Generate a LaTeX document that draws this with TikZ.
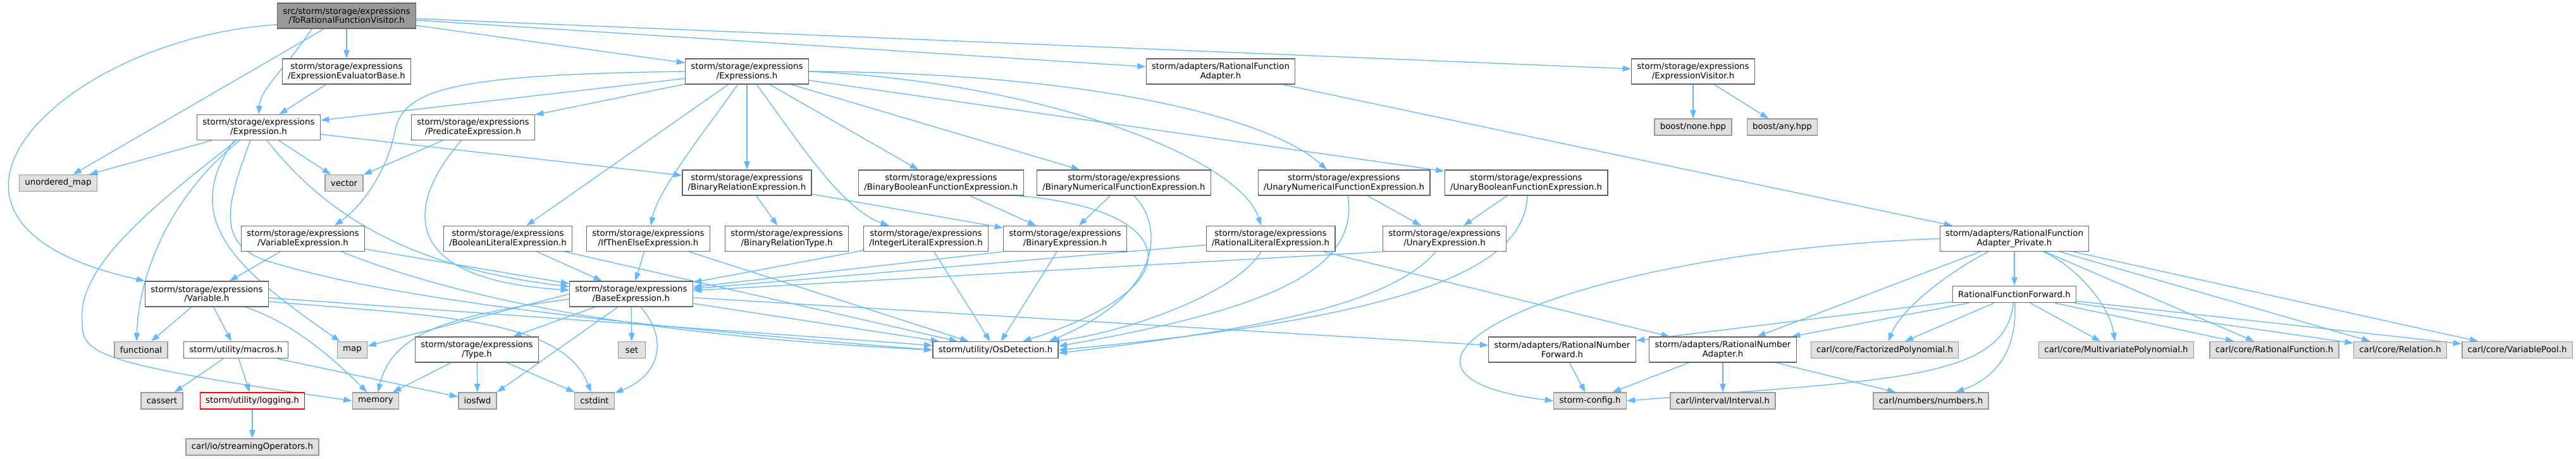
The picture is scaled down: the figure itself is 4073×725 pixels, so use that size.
\documentclass[tikz,border=0pt]{standalone}
\usepackage{fontspec}
\setmainfont{DejaVu Sans}
\usetikzlibrary{arrows.meta,calc,backgrounds}

\definecolor{incblue}{HTML}{63B8FF}
\definecolor{hdrline}{HTML}{666666}
\definecolor{sysline}{HTML}{999999}
\definecolor{sysfill}{HTML}{E0E0E0}
\definecolor{cutfill}{HTML}{FFF0F0}

\begin{document}
\begin{tikzpicture}[
  x=0.75pt, y=-0.75pt,
  font=\fontsize{10}{11}\selectfont,
  hdr/.style={draw=hdrline, fill=white, line width=1pt, align=center,
    inner xsep=6.6pt, inner ysep=0pt, minimum height=30pt, minimum width=32pt},
  hdrone/.style={hdr, minimum height=19.5pt},
  sys/.style={hdrone, draw=sysline, fill=sysfill},
  curfile/.style={hdr, fill=sysline},
  trunc/.style={hdrone, draw=red, fill=cutfill},
  dep/.style={-{Triangle[length=10pt,width=7pt]}, color=incblue, line width=1pt}
]
  \useasboundingbox (0,0) rectangle (4073,725);

  \node[curfile] (root) at (548,25) {src/storm/storage/expressions\\/ToRationalFunctionVisitor.h};
  \node[hdr] (evalbase) at (548,113) {storm/storage/expressions\\/ExpressionEvaluatorBase.h};
  \node[hdr] (exprs) at (1181,113) {storm/storage/expressions\\/Expressions.h};
  \node[hdr] (rfadapter) at (1930,113) {storm/adapters/RationalFunction\\Adapter.h};
  \node[hdr] (visitor) at (2677,113) {storm/storage/expressions\\/ExpressionVisitor.h};

  \node[hdr] (expr) at (409,201.5) {storm/storage/expressions\\/Expression.h};
  \node[hdr] (pred) at (748,201.5) {storm/storage/expressions\\/PredicateExpression.h};
  \node[sys] (bnone) at (2677,201) {boost/none.hpp};
  \node[sys] (bany) at (2818,201) {boost/any.hpp};

  \node[sys] (umap) at (92,289.5) {unordered\_map};
  \node[sys] (vec) at (544,289.5) {vector};
  \node[hdr] (brel) at (1181,289) {storm/storage/expressions\\/BinaryRelationExpression.h};
  \node[hdr] (bbool) at (1488,289) {storm/storage/expressions\\/BinaryBooleanFunctionExpression.h};
  \node[hdr] (bnum) at (1777,289) {storm/storage/expressions\\/BinaryNumericalFunctionExpression.h};
  \node[hdr] (unum) at (2125,289) {storm/storage/expressions\\/UnaryNumericalFunctionExpression.h};
  \node[hdr] (ubool) at (2413,289) {storm/storage/expressions\\/UnaryBooleanFunctionExpression.h};

  \node[hdr] (varexpr) at (479,377.5) {storm/storage/expressions\\/VariableExpression.h};
  \node[hdr] (boollit) at (803,377.5) {storm/storage/expressions\\/BooleanLiteralExpression.h};
  \node[hdr] (ite) at (1025,377.5) {storm/storage/expressions\\/IfThenElseExpression.h};
  \node[hdr] (brtype) at (1244,377.5) {storm/storage/expressions\\/BinaryRelationType.h};
  \node[hdr] (intlit) at (1464,377.5) {storm/storage/expressions\\/IntegerLiteralExpression.h};
  \node[hdr] (binexpr) at (1684,377.5) {storm/storage/expressions\\/BinaryExpression.h};
  \node[hdr] (ratlit) at (2009,377.5) {storm/storage/expressions\\/RationalLiteralExpression.h};
  \node[hdr] (unexpr) at (2284,377.5) {storm/storage/expressions\\/UnaryExpression.h};
  \node[hdr] (rfpriv) at (3185,377.5) {storm/adapters/RationalFunction\\Adapter\_Private.h};

  \node[hdr] (var) at (327,465) {storm/storage/expressions\\/Variable.h};
  \node[hdr] (base) at (998,465) {storm/storage/expressions\\/BaseExpression.h};
  \node[hdrone] (rffwd) at (3185,465.5) {RationalFunctionForward.h};

  \node[sys] (func) at (223,553.5) {functional};
  \node[hdrone] (macros) at (373,553.5) {storm/utility/macros.h};
  \node[sys] (stlmap) at (557,553.5) {map};
  \node[hdr] (type) at (754,553) {storm/storage/expressions\\/Type.h};
  \node[sys] (stlset) at (999,553.5) {set};
  \node[hdrone] (osdet) at (1574,553.5) {storm/utility/OsDetection.h};
  \node[hdr] (rnfwd) at (2470,553) {storm/adapters/RationalNumber\\Forward.h};
  \node[hdr] (rnadapt) at (2724,553) {storm/adapters/RationalNumber\\Adapter.h};
  \node[sys] (facpoly) at (2980,553.5) {carl/core/FactorizedPolynomial.h};
  \node[sys] (mvpoly) at (3346,553.5) {carl/core/MultivariatePolynomial.h};
  \node[sys] (ratfun) at (3596,553.5) {carl/core/RationalFunction.h};
  \node[sys] (relation) at (3795,553.5) {carl/core/Relation.h};
  \node[sys] (varpool) at (3980,553.5) {carl/core/VariablePool.h};

  \node[sys] (cassert) at (256,634) {cassert};
  \node[trunc] (logging) at (399,634) {storm/utility/logging.h};
  \node[sys] (memory) at (594,634) {memory};
  \node[sys] (iosfwd) at (755,634) {iosfwd};
  \node[sys] (cstdint) at (940,634) {cstdint};
  \node[sys] (stormcfg) at (2514,634) {storm-config.h};
  \node[sys] (interval) at (2724,634) {carl/interval/Interval.h};
  \node[sys] (numbers) at (3053,634) {carl/numbers/numbers.h};

  \node[sys] (streamops) at (399,707) {carl/io/streamingOperators.h};

  \begin{scope}[on background layer]
  \draw[dep] (root) -- (evalbase);
  \draw[dep] ($(root.south)+(-55,0)$) .. controls (450,110) and (412,140) .. (expr.north);
  \draw[dep] (root) -- (umap);
  \draw[dep] ($(root.west)+(0,14)$) .. controls (100,60) and (-200,350) .. (var.north west);
  \draw[dep] (root) -- (exprs);
  \draw[dep] (root) -- (rfadapter);
  \draw[dep] (root) -- (visitor);
  \draw[dep] (evalbase) -- (expr);

  \draw[dep] (exprs) -- (expr);
  \draw[dep] (exprs) -- (pred);
  \draw[dep] (exprs.west) .. controls (720,118) and (640,140) .. (625,205)
    .. controls (615,260) and (580,320) .. ($(varexpr.north)+(50,0)$);
  \draw[dep] (exprs) -- (brel);
  \draw[dep] (exprs) -- (boollit);
  \draw[dep] (exprs) .. controls (1120,200) and (1040,300) .. (ite);
  \draw[dep] (exprs) .. controls (1260,220) and (1330,330) .. (intlit);
  \draw[dep] (exprs) -- (bbool);
  \draw[dep] (exprs) -- (bnum);
  \draw[dep] (exprs.east) .. controls (1650,130) and (1960,250) .. ($(ratlit.north)+(-15,0)$);
  \draw[dep] (exprs.east) .. controls (1700,115) and (2000,180) .. ($(unum.north)+(-27,0)$);
  \draw[dep] (exprs) -- (ubool);

  \draw[dep] (expr) -- (umap);
  \draw[dep] (expr) -- (vec);
  \draw[dep] (expr) -- (brel);
  \draw[dep] ($(expr.south)+(-35,0)$) .. controls (250,320) and (120,420) .. (130,510)
    .. controls (130,560) and (150,575) .. (memory.west);
  \draw[dep] ($(expr.south)+(-30,0)$) .. controls (280,300) and (220,420) .. ($(func.north)+(-7,0)$);
  \draw[dep] ($(expr.south)+(-39,0)$) .. controls (280,350) and (380,430) .. (stlmap);
  \draw[dep] ($(expr.south)+(-13,0)$) .. controls (355,330) and (345,385) .. (420,412)
    .. controls (560,455) and (800,500) .. (osdet.west);
  \draw[dep] ($(expr.south)+(13,0)$) .. controls (500,320) and (620,420) .. (base);

  \draw[dep] (pred) -- (vec);
  \draw[dep] (pred) .. controls (660,300) and (600,440) .. (base);
  \draw[dep] (brel) -- (brtype);
  \draw[dep] (brel) -- (binexpr);
  \draw[dep] (bbool) -- (binexpr);
  \draw[dep] ($(bbool.south east)+(-10,0)$) .. controls (1860,330) and (1900,450) .. (osdet);
  \draw[dep] (bnum) -- (binexpr);
  \draw[dep] ($(bnum.south)+(16,0)$) .. controls (1835,350) and (1850,460) .. ($(osdet.north east)+(-15,0)$);
  \draw[dep] (unum) -- (unexpr);
  \draw[dep] ($(unum.south)+(6,0)$) .. controls (2150,430) and (2000,490) .. ($(osdet.east)+(0,-6)$);
  \draw[dep] (ubool) -- (unexpr);
  \draw[dep] ($(ubool.south)+(2,0)$) .. controls (2410,420) and (2250,500) .. (osdet.east);

  \draw[dep] (varexpr) -- (var);
  \draw[dep] (varexpr) -- (base);
  \draw[dep] ($(varexpr.south)+(61,0)$) .. controls (720,470) and (1000,530) .. (osdet.west);
  \draw[dep] (boollit) -- (base);
  \draw[dep] (boollit) -- (osdet);
  \draw[dep] (ite) -- (base);
  \draw[dep] (ite) -- (osdet);
  \draw[dep] (intlit) -- (base);
  \draw[dep] (intlit) -- (osdet);
  \draw[dep] (binexpr.south west) -- (base);
  \draw[dep] (binexpr) -- (osdet);
  \draw[dep] ($(ratlit.west)+(0,10)$) -- (base);
  \draw[dep] ($(ratlit.south)+(-15,0)$) .. controls (1950,470) and (1760,530) .. ($(osdet.north east)+(-12,0)$);
  \draw[dep] (ratlit) -- (rnadapt);
  \draw[dep] (unexpr.south west) -- (base);
  \draw[dep] ($(unexpr.south)+(-14,0)$) .. controls (2200,480) and (2000,520) .. ($(osdet.east)+(0,5)$);

  \draw[dep] (rfadapter) -- (rfpriv);
  \draw[dep] (visitor) -- (bnone);
  \draw[dep] (visitor) -- (bany);

  \draw[dep] (var) -- (func);
  \draw[dep] (var) -- (macros);
  \draw[dep] (var) .. controls (460,510) and (520,560) .. (memory);
  \draw[dep] ($(var.east)+(0,12)$) .. controls (700,500) and (890,505) .. (cstdint);
  \draw[dep] ($(var.east)+(0,6)$) -- (osdet);
  \draw[dep] (macros) -- (cassert);
  \draw[dep] (macros) -- (logging);
  \draw[dep] (macros) -- (iosfwd);
  \draw[dep] (logging) -- (streamops);

  \draw[dep] (base) -- (type);
  \draw[dep] ($(base.south)+(-21,0)$) -- (iosfwd.north east);
  \draw[dep] (base) -- (stlset);
  \draw[dep] ($(base.south)+(15,0)$) .. controls (1060,540) and (1040,595) .. (cstdint);
  \draw[dep] (base.west) -- (stlmap);
  \draw[dep] ($(base.west)+(0,8)$) .. controls (700,500) and (620,530) .. (memory);
  \draw[dep] (base) -- (osdet);
  \draw[dep] (base) -- (rnfwd);
  \draw[dep] (type) -- (memory);
  \draw[dep] (type) -- (iosfwd);
  \draw[dep] (type) -- (cstdint);

  \draw[dep] (rnfwd) -- (stormcfg);
  \draw[dep] (rnadapt) -- (stormcfg);
  \draw[dep] (rnadapt) -- (interval);
  \draw[dep] (rnadapt) -- (numbers);

  \draw[dep] (rfpriv.west) .. controls (2450,400) and (2100,590) .. (stormcfg.west);
  \draw[dep] (rfpriv) -- (rnadapt);
  \draw[dep] (rfpriv) .. controls (3100,420) and (3010,480) .. (facpoly);
  \draw[dep] (rfpriv) -- (rffwd);
  \draw[dep] (rfpriv) .. controls (3280,420) and (3335,480) .. (mvpoly);
  \draw[dep] (rfpriv) -- (ratfun);
  \draw[dep] (rfpriv) -- (relation);
  \draw[dep] (rfpriv) -- (varpool);

  \draw[dep] (rffwd) -- (rnfwd);
  \draw[dep] (rffwd) -- (rnadapt);
  \draw[dep] (rffwd) -- (facpoly);
  \draw[dep] (rffwd) .. controls (3170,600) and (3000,600) .. (stormcfg.east);
  \draw[dep] (rffwd) .. controls (3190,560) and (3150,600) .. (numbers);
  \draw[dep] (rffwd) -- (mvpoly);
  \draw[dep] (rffwd) -- (ratfun);
  \draw[dep] (rffwd) -- (relation);
  \draw[dep] (rffwd) -- (varpool);
  \end{scope}
\end{tikzpicture}
\end{document}
